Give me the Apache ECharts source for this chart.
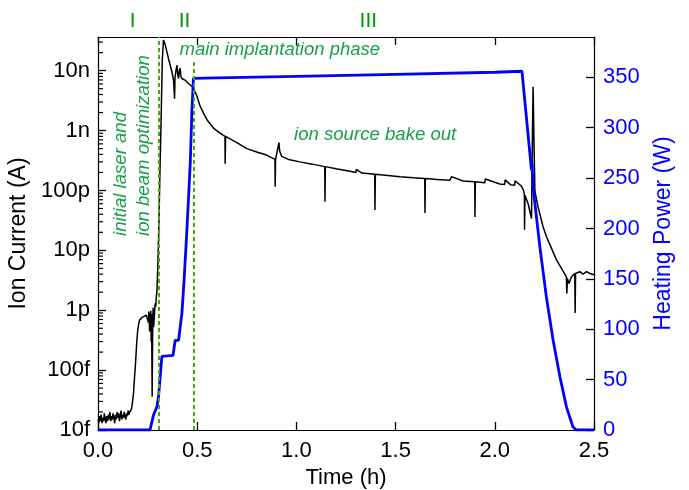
<!DOCTYPE html>
<html><head><meta charset="utf-8">
<script src="https://cdn.jsdelivr.net/npm/echarts@6/dist/echarts.min.js"></script>
<style>html,body{margin:0;padding:0;background:#fff}#c{width:689px;height:490px}</style>
</head><body><div id="c"></div>
<script>
// ---- data (time in hours) ----
const currentT = [
 0.000,0.004,0.008,0.012,0.016,0.020,0.024,0.028,0.032,0.036,0.040,0.044,0.048,0.052,0.056,0.060,0.064,0.068,0.072,0.076,
 0.080,0.084,0.088,0.092,0.096,0.100,0.104,0.108,0.112,0.116,0.120,0.124,0.128,0.132,0.136,0.140,0.144,0.148,0.152,0.156,
 0.160,0.164,0.168,0.172,0.179,0.184,0.188,0.192,0.196,0.200,0.204,0.209,0.213,0.220,0.226,0.232,0.238,0.243,0.248,0.252,
 0.254,0.256,0.258,0.260,0.262,0.264,0.266,0.268,0.270,0.273,0.276,0.278,0.280,0.282,0.285,0.288,0.291,0.294,0.297,0.302,
 0.307,0.312,0.317,0.324,0.330,0.339,0.355,0.3725,0.381,0.384,0.386,0.388,0.393,0.398,0.402,0.406,0.410,0.414,0.418,0.423,
 0.430,0.440,0.456,0.478,0.498,0.514,0.532,0.550,0.582,0.610,0.640,0.641,0.643,0.700,0.750,0.800,0.850,0.892,0.893,0.895,
 0.905,0.912,0.916,0.926,0.960,1.018,1.080,1.143,1.144,1.146,1.200,1.270,1.300,1.302,1.330,1.395,1.396,1.398,1.460,1.522,
 1.590,1.647,1.648,1.650,1.710,1.774,1.780,1.782,1.840,1.899,1.900,1.902,1.950,1.952,2.025,2.050,2.052,2.080,2.100,2.102,
 2.134,2.145,2.149,2.150,2.152,2.168,2.185,2.190,2.193,2.197,2.202,2.207,2.218,2.243,2.260,2.286,2.311,2.336,2.361,2.363,
 2.366,2.374,2.386,2.403,2.405,2.407,2.428,2.445,2.462,2.480,2.500
];
const currentA = [
 15e-15,13e-15,17e-15,14e-15,18e-15,13e-15,16e-15,14e-15,19e-15,15e-15,13e-15,17e-15,14e-15,18e-15,15e-15,20e-15,14e-15,17e-15,15e-15,19e-15,
 16e-15,13e-15,18e-15,15e-15,20e-15,16e-15,19e-15,14e-15,17e-15,21e-15,15e-15,18e-15,16e-15,20e-15,17e-15,15e-15,19e-15,17e-15,21e-15,18e-15,
 20e-15,19e-15,22e-15,26e-15,41e-15,75e-15,114e-15,190e-15,318e-15,450e-15,565e-15,680e-15,705e-15,750e-15,770e-15,790e-15,800e-15,830e-15,870e-15,890e-15,
 620e-15,950e-15,720e-15,440e-15,900e-15,560e-15,980e-15,300e-15,850e-15,36e-15,700e-15,1100e-15,520e-15,610e-15,900e-15,1.3e-12,1.15e-12,1.7e-12,2.1e-12,6e-12,
 28e-12,194e-12,1e-9,15e-9,32.4e-9,27e-9,16e-9,9.6e-9,6.9e-9,7.2e-9,3.4e-9,7.6e-9,10e-9,12.4e-9,8.5e-9,7.4e-9,10e-9,11e-9,8e-9,7.4e-9,
 7.8e-9,6.9e-9,6.1e-9,5.3e-9,3.8e-9,2.6e-9,1.95e-9,1.5e-9,1.1e-9,9.3e-10,8e-10,2.8e-10,8e-10,6.3e-10,5.0e-10,4.4e-10,3.9e-10,3.3e-10,1.15e-10,3.3e-10,
 3.4e-10,6.3e-10,4.5e-10,3.7e-10,3.3e-10,3.0e-10,2.75e-10,2.5e-10,6.5e-11,2.5e-10,2.3e-10,2.1e-10,2.0e-10,2.25e-10,1.95e-10,1.86e-10,4.7e-11,1.86e-10,1.78e-10,1.7e-10,
 1.63e-10,1.58e-10,4.2e-11,1.58e-10,1.52e-10,1.48e-10,1.47e-10,1.7e-10,1.44e-10,1.4e-10,3.6e-11,1.4e-10,1.34e-10,1.55e-10,1.28e-10,1.26e-10,1.5e-10,1.24e-10,1.22e-10,1.45e-10,
 1.18e-10,1.0e-10,8.5e-11,2.2e-11,8.3e-11,6e-11,3.4e-11,1e-9,5.4e-9,8e-10,1e-10,8e-11,5.3e-11,2.5e-11,1.7e-11,1.08e-11,6.9e-12,5e-12,3.6e-12,1.9e-12,
 3.4e-12,2.8e-12,3.6e-12,4.1e-12,0.9e-12,4.1e-12,4.4e-12,4.0e-12,4.4e-12,4.1e-12,3.9e-12
];
const powerT = [0,0.262,0.280,0.297,0.305,0.322,0.378,0.389,0.406,0.423,0.434,0.448,0.465,0.473,0.481,0.600,1.000,1.500,2.000,2.137,2.185,2.188,2.191,2.202,2.227,2.260,2.294,2.328,2.361,2.394,2.411,2.500];
const powerW = [0,0,15,23,33,73,74,89,89,116,149,198,265,315,349,349.5,351,353,355,356,258,265,245,225,182,132,89,53,23,3,0,0];

const currentTickValues = [1e-14,1e-13,1e-12,1e-11,1e-10,1e-9,1e-8];
const currentTickLabels = ['10f','100f','1p','10p','100p','1n','10n'];
const currentMax = 3.65e-8;
const phaseBoundaries = [0.305, 0.485];
const phaseNames = ['I','II','III'];

const FONT = "'Liberation Sans', Arial, sans-serif";
const GREEN_T = '#17a047';
const GREEN_R = '#009900';

const currentData = currentT.map((t,i)=>[t, currentA[i]]);
const powerData = powerT.map((t,i)=>[t, powerW[i]]);
// logarithmic minor ticks (2..9 x each decade), kept below the axis maximum
const minorTicks = [];
currentTickValues.forEach(d => { for (let k=2;k<=9;k++){ const v = k*d; if (v < currentMax) minorTicks.push([0, v]); } });

const chart = echarts.init(document.getElementById('c'), null, {renderer:'canvas'});
function ticks(){ return {show:true, inside:true, length:8, lineStyle:{color:'#000', width:1.3}}; }
function axLine(){ return {show:true, onZero:false, lineStyle:{color:'#000', width:1.2}}; }
chart.setOption({
  backgroundColor:'#fff',
  animation:false,
  grid:{left:98, right:95, top:37, bottom:60, containLabel:false, outerBoundsMode:'none'},
  xAxis:[{
    type:'value', min:0, max:2.5, interval:0.5, position:'bottom',
    name:'Time (h)', nameLocation:'middle', nameGap:33,
    nameTextStyle:{fontSize:22, color:'#000', fontFamily:FONT},
    axisLine:axLine(), axisTick:ticks(),
    axisLabel:{fontSize:22, color:'#000', fontFamily:FONT, margin:10, formatter:v=>v.toFixed(1)},
    splitLine:{show:false}
  },{
    type:'value', min:0, max:2.5, interval:0.5, position:'top',
    axisLine:axLine(), axisTick:ticks(), axisLabel:{show:false}, splitLine:{show:false}
  }],
  yAxis:[{
    type:'log', logBase:10, min:1e-14, max:currentMax, position:'left',
    name:'Ion Current (A)', nameLocation:'middle', nameGap:53, nameRotate:90,
    nameTextStyle:{fontSize:23, color:'#000', fontFamily:FONT},
    axisLine:axLine(), axisTick:ticks(),
    minorTick:{show:false},
    axisLabel:{fontSize:22, color:'#000', fontFamily:FONT, margin:8, showMaxLabel:false,
      formatter:function(v){
        const e = Math.log10(v);
        for (let i=0;i<currentTickValues.length;i++){
          if (Math.abs(Math.log10(currentTickValues[i]) - e) < 0.01) return currentTickLabels[i];
        }
        return '';
      }},
    splitLine:{show:false}, minorSplitLine:{show:false}
  },{
    type:'value', min:0, max:390, interval:50, position:'right',
    name:'Heating Power (W)', nameLocation:'middle', nameGap:58, nameRotate:90,
    nameTextStyle:{fontSize:23, color:'#0000ff', fontFamily:FONT},
    axisLine:axLine(), axisTick:ticks(),
    axisLabel:{fontSize:22, color:'#0000ff', fontFamily:FONT, margin:9, showMaxLabel:false,
      formatter:v=> (v%50===0 ? String(v) : '')},
    splitLine:{show:false}
  }],
  series:[{
    type:'custom', name:'minor ticks', xAxisIndex:0, yAxisIndex:0, data:minorTicks, silent:true, clip:false, z:5,
    renderItem:function(params, api){
      const p = api.coord([0, api.value(1)]);
      return {type:'line', shape:{x1:p[0], y1:p[1], x2:p[0]+5, y2:p[1]}, style:{stroke:'#000', lineWidth:1.2}};
    }
  },{
    type:'line', name:'Ion current', xAxisIndex:0, yAxisIndex:0, data:currentData,
    showSymbol:false, symbol:'none', lineStyle:{color:'#000', width:1.5}, z:3, clip:true
  },{
    type:'line', name:'Heating power', xAxisIndex:0, yAxisIndex:1, data:powerData,
    showSymbol:false, symbol:'none', lineStyle:{color:'#0000ff', width:2.8}, z:4, clip:true,
    markLine:{
      silent:true, symbol:['none','none'], label:{show:false},
      lineStyle:{color:'#44a800', width:2, type:[4,3]},
      data:[
        [{coord:[phaseBoundaries[0],0]},{coord:[phaseBoundaries[0],390]}],
        [{coord:[phaseBoundaries[1],0]},{coord:[phaseBoundaries[1],365]}]
      ]
    }
  }],
  graphic:[
    {type:'text', x:132.7, y:21.5, style:{text:phaseNames[0], fontSize:21, fill:GREEN_R, fontFamily:FONT, align:'center', verticalAlign:'middle'}},
    {type:'text', x:184.5, y:21.5, style:{text:phaseNames[1], fontSize:21, fill:GREEN_R, fontFamily:FONT, align:'center', verticalAlign:'middle'}},
    {type:'text', x:368.3, y:21.5, style:{text:phaseNames[2], fontSize:21, fill:GREEN_R, fontFamily:FONT, align:'center', verticalAlign:'middle'}},
    {type:'text', x:121, y:236, rotation:Math.PI/2, style:{text:'initial laser and', fontSize:18.6, fontStyle:'italic', fill:GREEN_T, fontFamily:FONT, align:'left', verticalAlign:'middle'}},
    {type:'text', x:144, y:236, rotation:Math.PI/2, style:{text:'ion beam optimization', fontSize:18.6, fontStyle:'italic', fill:GREEN_T, fontFamily:FONT, align:'left', verticalAlign:'middle'}},
    {type:'text', x:179.5, y:50, style:{text:'main implantation phase', fontSize:18.5, fontStyle:'italic', fill:GREEN_T, fontFamily:FONT, align:'left', verticalAlign:'middle'}},
    {type:'text', x:294, y:135, style:{text:'ion source bake out', fontSize:18.6, fontStyle:'italic', fill:GREEN_T, fontFamily:FONT, align:'left', verticalAlign:'middle'}}
  ]
});
</script></body></html>
